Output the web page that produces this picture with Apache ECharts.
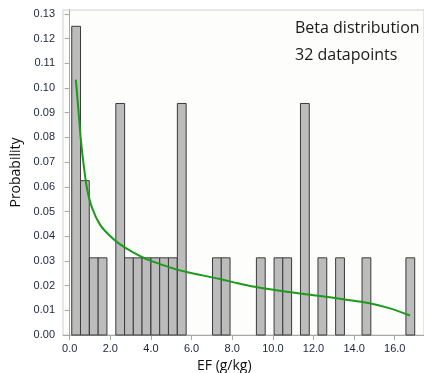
<!DOCTYPE html>
<html>
<head>
<meta charset="utf-8">
<script src="https://cdn.jsdelivr.net/npm/echarts@6/dist/echarts.min.js"></script>
<style>
  html, body { margin: 0; padding: 0; background: #fff; }
  #chart { width: 424px; height: 373px; }
</style>
</head>
<body>
<div id="chart"></div>
<script>
// histogram bins (left edge, g/kg) and their probability
var binLeft = [0.10, 0.53, 0.97, 1.40, 2.27, 2.70, 3.13, 3.56, 4.00, 4.43, 4.86, 5.30,
               7.03, 7.46, 9.19, 10.06, 10.49, 11.36, 12.22, 13.09, 14.39, 16.55];
var binWidth = 0.433;
var binProb = [0.125, 0.0625, 0.03125, 0.03125, 0.09375, 0.03125, 0.03125, 0.03125, 0.03125, 0.03125, 0.03125, 0.09375,
               0.03125, 0.03125, 0.03125, 0.03125, 0.03125, 0.09375, 0.03125, 0.03125, 0.03125, 0.03125];

// fitted beta curve
var fitX = [0.30, 0.42, 0.55, 0.70, 0.86, 1.10, 1.50, 2.00, 2.50, 3.12, 3.94, 4.93, 5.75, 7.39, 8.13, 9.11, 10.59, 12.23, 13.55, 14.70, 15.68, 16.75];
var fitY = [0.1034, 0.0920, 0.0790, 0.0680, 0.0590, 0.0515, 0.0446, 0.0400, 0.0366, 0.0335, 0.0302, 0.0274, 0.0255, 0.0227, 0.0212, 0.0195, 0.0176, 0.0159, 0.0144, 0.0130, 0.0110, 0.0079];

var xTicks = [0, 2, 4, 6, 8, 10, 12, 14, 16];
var yTicks = [0, 0.01, 0.02, 0.03, 0.04, 0.05, 0.06, 0.07, 0.08, 0.09, 0.10, 0.11, 0.12, 0.13];

var chart = echarts.init(document.getElementById('chart'));

var labelStyle = { color: '#1c2340', fontFamily: 'Liberation Sans, Arial, sans-serif', fontSize: 11 };

chart.setOption({
    animation: false,
    grid: {
        left: 63, top: 10, right: 0, bottom: 38,
        show: true, borderColor: '#cfcfcf', borderWidth: 1, backgroundColor: '#fdfdfb',
        outerBoundsMode: 'none'
    },
    xAxis: {
        type: 'value', min: -0.33, max: 17.44,
        axisLine: { show: true, lineStyle: { color: '#a8a8a8' } },
        axisTick: { show: true, length: 5, customValues: xTicks, lineStyle: { color: '#a8a8a8' } },
        axisLabel: Object.assign({ margin: 8, customValues: xTicks, formatter: function (v) { return v.toFixed(1); } }, labelStyle),
        splitLine: { show: false }
    },
    yAxis: {
        type: 'value', min: 0, max: 0.1316,
        name: 'Probability', nameLocation: 'middle', nameGap: 36,
        nameTextStyle: { color: '#111', fontSize: 14, fontFamily: 'Open Sans, sans-serif' },
        axisLine: { show: true, lineStyle: { color: '#a8a8a8' } },
        axisTick: { show: true, length: 5, customValues: yTicks, lineStyle: { color: '#a8a8a8' } },
        axisLabel: Object.assign({ margin: 8, customValues: yTicks, formatter: function (v) { return v.toFixed(2); } }, labelStyle),
        splitLine: { show: false }
    },
    graphic: [
        { type: 'text', left: 295, top: 20, style: { text: 'Beta distribution', fill: '#1a1a1a', fontSize: 16, fontFamily: 'Open Sans, sans-serif' } },
        { type: 'text', left: 295, top: 47, style: { text: '32 datapoints', fill: '#1a1a1a', fontSize: 16, fontFamily: 'Open Sans, sans-serif' } },
        { type: 'text', left: 197, top: 359, style: { text: 'EF (g/kg)', fill: '#111', fontSize: 14, fontFamily: 'Open Sans, sans-serif' } }
    ],
    series: [
        {
            type: 'custom',
            data: binLeft.map(function (l, i) { return [l, l + binWidth, binProb[i]]; }),
            renderItem: function (params, api) {
                var p0 = api.coord([api.value(0), api.value(2)]);
                var p1 = api.coord([api.value(1), 0]);
                return {
                    type: 'rect',
                    shape: { x: p0[0], y: p0[1], width: p1[0] - p0[0], height: p1[1] - p0[1] },
                    style: { fill: '#bcbcbc', stroke: '#3a3a3a', lineWidth: 1 }
                };
            },
            encode: { x: [0, 1], y: 2 },
            z: 2
        },
        {
            type: 'line',
            data: fitX.map(function (x, i) { return [x, fitY[i]]; }),
            showSymbol: false,
            smooth: 0.35,
            lineStyle: { color: '#1c9a1c', width: 2 },
            z: 3
        }
    ]
});
</script>
</body>
</html>
